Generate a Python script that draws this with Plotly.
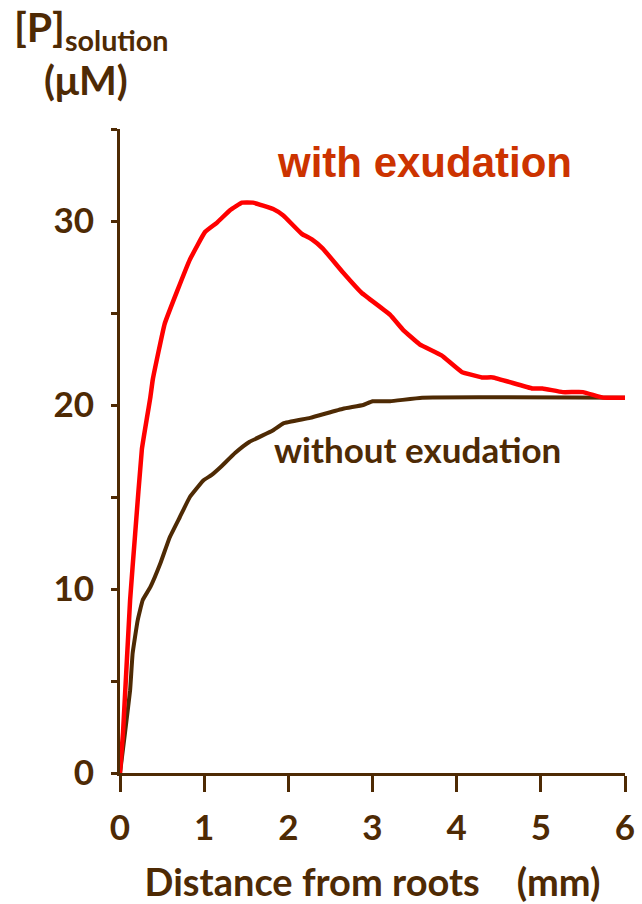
import plotly.graph_objects as go

# Phosphate concentration in soil solution vs. distance from roots
dist_with = [0, 0.036, 0.12, 0.18, 0.26, 0.32, 0.36, 0.39, 0.53, 0.68, 0.83, 1.01, 1.15,
             1.31, 1.45, 1.58, 1.82, 1.94, 2.16, 2.28, 2.41, 2.65, 2.87, 3.21, 3.36,
             3.56, 3.82, 4.06, 4.30, 4.43, 4.90, 5.02, 5.26, 5.50, 5.74, 6.0]
p_with = [0, 2.2, 9.4, 13.0, 17.6, 19.3, 20.4, 21.4, 24.4, 26.2, 27.9, 29.4, 29.9,
          30.6, 31.0, 31.0, 30.65, 30.3, 29.3, 29.0, 28.5, 27.2, 26.1, 24.9, 24.1,
          23.3, 22.7, 21.8, 21.5, 21.5, 20.9, 20.9, 20.7, 20.7, 20.4, 20.4]

dist_without = [0, 0.06, 0.12, 0.15, 0.21, 0.27, 0.36, 0.48, 0.59, 0.71, 0.83, 0.99,
                1.09, 1.19, 1.37, 1.54, 1.81, 1.94, 2.26, 2.65, 2.89, 3.00, 3.21, 3.59, 6.0]
p_without = [0, 2.2, 4.5, 6.5, 8.3, 9.4, 10.1, 11.4, 12.8, 13.9, 15.0, 15.9,
             16.2, 16.6, 17.4, 18.0, 18.6, 19.0, 19.3, 19.8, 20.0, 20.2, 20.2, 20.4, 20.4]

x_ticks = [0, 1, 2, 3, 4, 5, 6]
y_ticks = [0, 5, 10, 15, 20, 25, 30, 35]
y_tick_text = ["0", "", "10", "", "20", "", "30", ""]

BROWN = "#4e2a04"
RED_TXT = "#cc3300"
FONT = "Lato"

fig = go.Figure()
fig.add_trace(go.Scatter(x=dist_without, y=p_without, mode="lines",
                         line=dict(color=BROWN, width=4, shape="spline", smoothing=0.3),
                         showlegend=False))
fig.add_trace(go.Scatter(x=dist_with, y=p_with, mode="lines",
                         line=dict(color="#ff0000", width=4.5, shape="spline", smoothing=0.3),
                         showlegend=False))

fig.update_layout(
    width=642, height=904,
    margin=dict(l=120, r=17, t=129, b=131),
    paper_bgcolor="white", plot_bgcolor="white",
    font=dict(family=FONT, color=BROWN),
    xaxis=dict(range=[0, 6], tickvals=x_ticks, ticktext=[str(v) for v in x_ticks],
               automargin=False,
               showgrid=False, zeroline=False, showline=True, linecolor=BROWN, linewidth=3,
               ticks="outside", ticklen=16, tickwidth=3, tickcolor=BROWN,
               ticklabelstandoff=6,
               tickfont=dict(family=FONT, size=35, color=BROWN, weight="bold"),
               title=dict(text="Distance from roots    (mm)", standoff=26,
                          font=dict(family=FONT, size=38, color=BROWN, weight="bold"))),
    yaxis=dict(range=[0, 35], tickvals=y_ticks, ticktext=y_tick_text,
               automargin=False,
               showgrid=False, zeroline=False, showline=True, linecolor=BROWN, linewidth=3,
               ticks="outside", ticklen=6, tickwidth=3, tickcolor=BROWN,
               ticklabelstandoff=10,
               tickfont=dict(family=FONT, size=35, color=BROWN, weight="bold")),
)

fig.add_annotation(text="[P]<sub>solution</sub>", xref="paper", yref="paper",
                   x=-0.214, y=1.155, xanchor="left", yanchor="middle", showarrow=False,
                   font=dict(family=FONT, size=41, color=BROWN, weight="bold"))
fig.add_annotation(text="(μM)", xref="paper", yref="paper",
                   x=-0.154, y=1.076, xanchor="left", yanchor="middle", showarrow=False,
                   font=dict(family=FONT, size=40, color=BROWN, weight="bold"))
fig.add_annotation(text="with exudation", xref="x", yref="y", x=3.62, y=33.2,
                   showarrow=False,
                   font=dict(family="Liberation Sans", size=42, color=RED_TXT, weight="bold"))
fig.add_annotation(text="without exudation", xref="x", yref="y", x=3.53, y=17.6,
                   showarrow=False,
                   font=dict(family=FONT, size=35, color=BROWN, weight="bold"))

fig.write_html("out.html")
